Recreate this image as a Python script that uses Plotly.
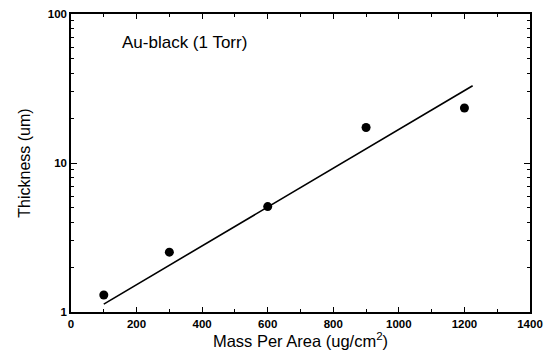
import plotly.graph_objects as go

mass = [100, 300, 600, 900, 1200]
thickness = [1.30, 2.52, 5.1, 17.3, 23.4]
fit_mass = [100, 1225]
fit_thickness = [1.13, 33.0]
x_ticks = [0, 200, 400, 600, 800, 1000, 1200, 1400]
y_ticks = [1, 10, 100]
y_minor_ticks = [2, 3, 4, 5, 6, 7, 8, 9, 20, 30, 40, 50, 60, 70, 80, 90]

FONT = "Liberation Sans, Arial"

fig = go.Figure()
fig.add_trace(go.Scatter(x=fit_mass, y=fit_thickness, mode="lines",
                         line=dict(color="black", width=1.6), showlegend=False))
fig.add_trace(go.Scatter(x=mass, y=thickness, mode="markers",
                         marker=dict(color="black", size=9), showlegend=False))

fig.add_annotation(x=0.106, y=0.905, xref="paper", yref="paper", text="Au-black (1 Torr)",
                   showarrow=False, xanchor="left", yanchor="middle",
                   font=dict(size=17, color="black", family=FONT))

axis_common = dict(showline=True, linecolor="black", linewidth=1.5, mirror="ticks",
                   ticks="inside", tickcolor="black", showgrid=False, zeroline=False,
                   automargin=False,
                   tickfont=dict(size=11.5, color="black", family=FONT, weight="bold"))

fig.update_xaxes(range=[0, 1400], tickvals=x_ticks, ticklen=5,
                 ticklabelstandoff=0,
                 minor=dict(ticks="inside", dtick=100, ticklen=3, tickcolor="black", showgrid=False),
                 title=dict(text="Mass Per Area (ug/cm<sup>2</sup>)", standoff=7,
                            font=dict(size=16.5, color="black", family=FONT)),
                 **axis_common)
fig.update_yaxes(type="log", range=[0, 2], tickvals=y_ticks, ticktext=[str(v) for v in y_ticks], ticklen=6,
                 minor=dict(ticks="inside", tickvals=y_minor_ticks, ticklen=3, tickcolor="black", showgrid=False),
                 title=dict(text="Thickness (um)", standoff=13,
                            font=dict(size=16, color="black", family=FONT)),
                 **axis_common)

fig.update_layout(width=549, height=358, margin=dict(l=71, r=19, t=14, b=46),
                  plot_bgcolor="white", paper_bgcolor="white")
fig.write_html("out.html", config={"displayModeBar": False},
               post_script="document.body.style.margin='0';")
